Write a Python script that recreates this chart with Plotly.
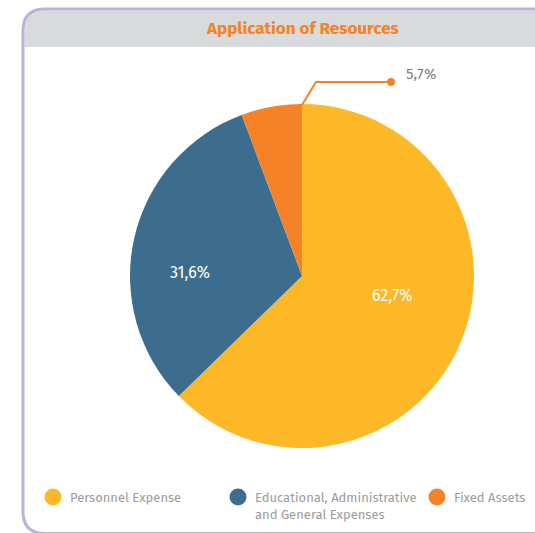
import math
import plotly.graph_objects as go

W, H = 535, 533

labels = ["Personnel Expense", "Educational, Administrative<br>and General Expenses", "Fixed Assets"]
values = [62.7, 31.6, 5.7]
colors = ["#FCB827", "#3D6D8E", "#F58226"]
title_text = "Application of Resources"

FONT = "Fira Sans, Noto Sans, sans-serif"


def px_x(x):
    return x / W


def px_y(y):
    return 1 - y / H


def pct(v):
    return f"{v:.1f}".replace(".", ",") + "%"


# pie occupies a 344px square centred at (302, 276)
cx, cy, r = 302, 276, 172

fig = go.Figure(go.Pie(
    labels=labels,
    values=values,
    sort=False,
    direction="clockwise",
    rotation=0,
    marker=dict(colors=colors, line=dict(width=0)),
    textinfo="none",
    hoverinfo="label+percent",
    showlegend=False,
    domain=dict(x=[px_x(cx - r), px_x(cx + r)], y=[px_y(cy + r), px_y(cy - r)]),
))

shapes = []
annotations = []

# frame border (lavender, rounded on the left)
rad = 22
x0, y0, x1, y1 = 23, 9, 545, 533.5
frame_path = (
    f"M {px_x(x1)},{px_y(y0)} L {px_x(x0 + rad)},{px_y(y0)} "
    f"Q {px_x(x0)},{px_y(y0)} {px_x(x0)},{px_y(y0 + rad)} "
    f"L {px_x(x0)},{px_y(y1 - rad)} "
    f"Q {px_x(x0)},{px_y(y1)} {px_x(x0 + rad)},{px_y(y1)} "
    f"L {px_x(x1)},{px_y(y1)}"
)
# header bar (gray)
hx0, hy0, hy1 = 24.5, 10.5, 47
header_path = (
    f"M {px_x(x1)},{px_y(hy0)} L {px_x(hx0 + rad - 1)},{px_y(hy0)} "
    f"Q {px_x(hx0)},{px_y(hy0)} {px_x(hx0)},{px_y(hy0 + rad - 1)} "
    f"L {px_x(hx0)},{px_y(hy1)} L {px_x(x1)},{px_y(hy1)} Z"
)
shapes.append(dict(type="path", xref="paper", yref="paper", path=header_path,
                   fillcolor="#D9DADC", line=dict(width=0), layer="below"))
shapes.append(dict(type="path", xref="paper", yref="paper", path=frame_path,
                   line=dict(color="#B9B3DC", width=3)))

# percentage labels inside the big slices, placed along each slice's angle
total = sum(values)
start = 0.0
label_r = [0.54, 0.65, None]
for v, lr in zip(values, label_r):
    mid = (start + v / 2) / total * 360 - 11
    start += v
    if lr is None:
        continue
    a = math.radians(mid)
    tx = cx + lr * r * math.sin(a)
    ty = cy - lr * r * math.cos(a)
    annotations.append(dict(text=pct(v), x=px_x(tx), y=px_y(ty), xref="paper", yref="paper",
                            showarrow=False, xanchor="center", yanchor="middle",
                            font=dict(family=FONT, size=16, color="white")))

# leader line for the small slice
lx0, ly0 = 302, 105
lx1, ly1 = 316, 82
lx2 = 391
shapes.append(dict(type="path", xref="paper", yref="paper",
                   path=f"M {px_x(lx0)},{px_y(ly0)} L {px_x(lx1)},{px_y(ly1)} L {px_x(lx2)},{px_y(ly1)}",
                   line=dict(color=colors[2], width=2)))
shapes.append(dict(type="circle", xref="paper", yref="paper",
                   x0=px_x(lx2 - 4), x1=px_x(lx2 + 4), y0=px_y(ly1 + 4), y1=px_y(ly1 - 4),
                   fillcolor=colors[2], line=dict(width=0)))

annotations += [
    dict(text=f"<b>{title_text}</b>", x=px_x(302), y=px_y(29), xref="paper", yref="paper",
         showarrow=False, xanchor="center", yanchor="middle",
         font=dict(family=FONT, size=17, color="#F58226")),
    dict(text=pct(values[2]), x=px_x(404), y=px_y(74), xref="paper", yref="paper",
         showarrow=False, xanchor="left", yanchor="middle",
         font=dict(family=FONT, size=15, color="#7F7F7F")),
]

# legend drawn by hand with round markers
leg_x = [53, 238, 437]
leg_y = 497
for lab, col, lx in zip(labels, colors, leg_x):
    shapes.append(dict(type="circle", xref="paper", yref="paper",
                       x0=px_x(lx - 8.5), x1=px_x(lx + 8.5), y0=px_y(leg_y + 8.5), y1=px_y(leg_y - 8.5),
                       fillcolor=col, line=dict(width=0)))
    annotations.append(dict(text=lab, x=px_x(lx + 15), y=px_y(leg_y - 9), xref="paper", yref="paper",
                            showarrow=False, xanchor="left", yanchor="top", align="left",
                            font=dict(family=FONT, size=13, color="#9B9B9B")))

fig.update_layout(
    width=W, height=H,
    margin=dict(l=0, r=0, t=0, b=0),
    paper_bgcolor="white",
    plot_bgcolor="white",
    shapes=shapes,
    annotations=annotations,
)

# drop the default page margin so the figure fills the window exactly
fig.write_html(
    "out.html",
    config={"displayModeBar": False},
    post_script="document.body.style.margin='0';document.body.style.overflow='hidden';",
)
